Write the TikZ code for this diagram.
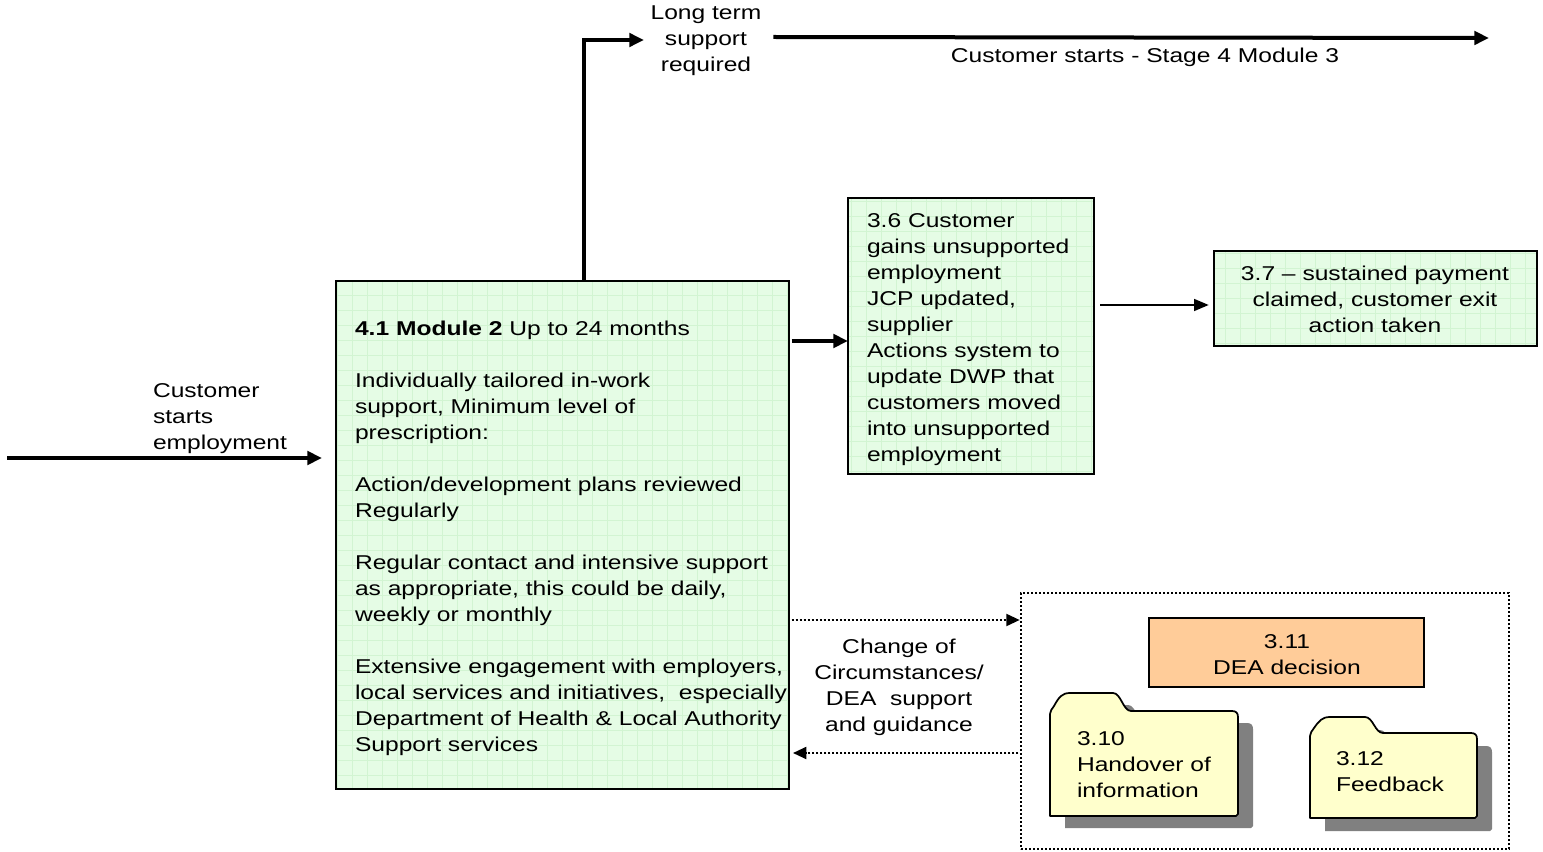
\documentclass[tikz,border=0pt]{standalone}
\usepackage{fontspec}
\setmainfont{Liberation Sans}[FakeStretch=1.23]
\usetikzlibrary{arrows.meta,calc}

\definecolor{boxgreen}{RGB}{229,252,229}
\definecolor{gridgreen}{RGB}{210,244,210}
\definecolor{decision}{RGB}{255,204,153}
\definecolor{folderyellow}{RGB}{255,255,204}
\definecolor{shadowgray}{RGB}{128,128,128}

% folder outline: left, body top, right, bottom, tab top, tab end
\newcommand\folderoutline[6]{
  (#1,#4) -- (#1,#2+3) .. controls (#1,#2) and (#1+2,#2-2) .. (#1+4,#2-5)
  .. controls (#1+9,#5+4) and (#1+12,#5) .. (#1+20,#5)
  -- (#6-18,#5)
  .. controls (#6-10,#5) and (#6-8,#2) .. (#6,#2)
  -- (#3-6,#2) .. controls (#3-2,#2) and (#3,#2+2) .. (#3,#2+6)
  -- (#3,#4-2) -- (#3-2,#4) -- cycle}

\tikzset{
  every node/.style={inner sep=0pt, outer sep=0pt},
  txt/.style={font=\fontsize{15}{19.5}\selectfont, align=left},
  ctxt/.style={font=\fontsize{15}{19.5}\selectfont, align=center},
  gridbox/.style={draw, line width=1.3pt, fill=boxgreen,
    path picture={\draw[gridgreen, line width=0.5pt, step=11.25pt]
      (path picture bounding box.south west) grid (path picture bounding box.north east);}},
  plainbox/.style={draw, line width=1.3pt},
  dotbox/.style={draw, line width=1.3pt, dash pattern=on 1.3pt off 1.7pt},
  thk/.style={line width=3pt, -{Triangle[length=11pt,width=10pt]}},
  thn/.style={line width=1.3pt, -{Triangle[length=11pt,width=9pt]}},
  dotarrow/.style={line width=1.5pt, dash pattern=on 1.5pt off 1.5pt,
    -{Triangle[length=10pt,width=9pt]}},
  foldershape/.style={draw, line width=1.3pt, fill=folderyellow, line join=round},
  foldershadow/.style={fill=shadowgray},
}

\begin{document}
\begin{tikzpicture}[x=0.75pt, y=-0.75pt]
\useasboundingbox (0,0) rectangle (1543,852);

% ---- boxes ----
\node[gridbox, minimum width=339.75pt, minimum height=381pt] (m41) at (562.5,535) {};
\node[gridbox, minimum width=184.5pt, minimum height=207pt] (b36) at (971,336) {};
\node[gridbox, minimum width=242.25pt, minimum height=71.25pt] (b37) at (1375.5,298.5) {};
\node[dotbox, minimum width=366pt, minimum height=192pt] (dea) at (1265,721) {};
\node[plainbox, fill=decision, minimum width=206.25pt, minimum height=51.75pt] (b311) at (1286.5,652.5) {};

% ---- folders with drop shadows ----
\fill[foldershadow, shift={(15,12)}] \folderoutline{1050}{711}{1238}{816}{693}{1131};
\draw[foldershape] \folderoutline{1050}{711}{1238}{816}{693}{1131};
\fill[foldershadow, shift={(15,13)}] \folderoutline{1310}{733}{1477}{818}{717}{1383};
\draw[foldershape] \folderoutline{1310}{733}{1477}{818}{717}{1383};

% ---- texts ----
\node[txt, anchor=north west] (t41) at (355,316.8) {\strut\textbf{4.1 Module 2} Up to 24 months\\[19.5pt]
Individually tailored in-work\\
support, Minimum level of\\
prescription:\\[19.5pt]
Action/development plans reviewed\\
Regularly\\[19.5pt]
Regular contact and intensive support\\
as appropriate, this could be daily,\\
weekly or monthly\\[19.5pt]
Extensive engagement with employers,\\
local services and initiatives,\ \ especially\\
Department of Health \& Local Authority\\
Support services};

\node[txt, anchor=north west] (t36) at (867,208.8) {\strut 3.6 Customer\\
gains unsupported\\
employment\\
JCP updated,\\
supplier\\
Actions system to\\
update DWP that\\
customers moved\\
into unsupported\\
employment};

\node[ctxt, anchor=north] (t37) at (1375,262.8) {\strut 3.7 – sustained payment\\
claimed, customer exit\\
action taken};

\node[ctxt, anchor=north] (t311) at (1287,629.8) {\strut 3.11\\DEA decision};
\node[txt, anchor=north west] (t310) at (1077,726.8) {\strut 3.10\\Handover of\\information};
\node[txt, anchor=north west] (t312) at (1336,746.8) {\strut 3.12\\Feedback};

\node[ctxt, anchor=north] (coc) at (899,634.8) {\strut Change of\\Circumstances/\\DEA\ \ support\\and guidance};
\node[txt, anchor=north west] (cse) at (153,378.8) {\strut Customer\\starts\\employment};
\node[ctxt, anchor=north] (lts) at (706,1.8) {\strut Long term\\support\\required};
\node[ctxt, anchor=north] (s4m3) at (1145,44.8) {\strut Customer starts - Stage 4 Module 3};

% ---- connectors ----
\coordinate (entry) at (7,458);
\coordinate (ltbend) at (584,40);
\coordinate (topline) at (0,37);
\coordinate (topend) at (1489,38);
\coordinate (r36) at (0,341);
\coordinate (r37) at (0,305);
\coordinate (rout) at (0,620);
\coordinate (rback) at (0,753);

\draw[thk] (entry) -- ([xshift=-10.5pt]m41.west |- entry);
\draw[thk] (m41.north -| ltbend) |- ([xshift=-5pt]lts.west |- ltbend);
\draw[thk] ([xshift=9pt]lts.east |- topline) -- (topend);
\draw[thk] ([xshift=2pt]m41.east |- r36) -- (b36.west |- r36);
\draw[thn] ([xshift=4.5pt]b36.east |- r37) -- ([xshift=-4pt]b37.west |- r37);
\draw[dotarrow] ([xshift=2pt]m41.east |- rout) -- ([xshift=-1pt]dea.west |- rout);
\draw[dotarrow] ([xshift=-2pt]dea.west |- rback) -- ([xshift=3pt]m41.east |- rback);
\end{tikzpicture}
\end{document}
